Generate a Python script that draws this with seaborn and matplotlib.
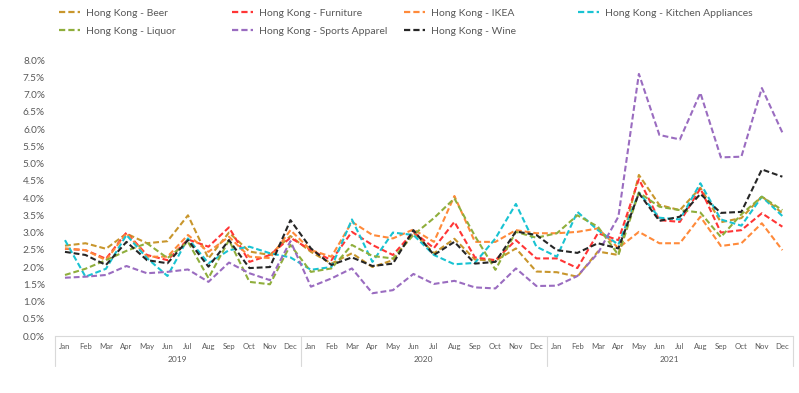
import numpy as np
import pandas as pd
import matplotlib
matplotlib.use("Agg")
import matplotlib.pyplot as plt
import matplotlib.transforms as mtransforms
from matplotlib.lines import Line2D
from matplotlib.ticker import PercentFormatter
import seaborn as sns

# --- data (percent) ---
months = ["Jan", "Feb", "Mar", "Apr", "May", "Jun",
          "Jul", "Aug", "Sep", "Oct", "Nov", "Dec"]
years = ["2019", "2020", "2021"]

beer = [2.62, 2.69, 2.53, 2.97, 2.69, 2.75, 3.50, 2.25, 3.00, 2.45, 2.35, 2.90,
        2.44, 2.10, 2.40, 2.00, 2.20, 3.00, 2.40, 2.82, 2.22, 2.18, 2.54, 1.87,
        1.85, 1.72, 2.45, 2.35, 4.67, 3.80, 3.65, 4.30, 3.30, 3.42, 4.05, 3.56]
furniture = [2.53, 2.49, 2.24, 3.00, 2.35, 2.20, 2.80, 2.59, 3.15, 2.15, 2.35, 2.85,
             2.49, 2.20, 3.02, 2.64, 2.35, 3.02, 2.55, 3.31, 2.28, 2.20, 2.78, 2.25,
             2.25, 1.97, 2.98, 2.78, 4.55, 3.36, 3.31, 4.28, 3.00, 3.07, 3.56, 3.17]
ikea = [2.54, 2.49, 2.20, 2.98, 2.30, 2.30, 2.93, 2.44, 2.88, 2.30, 2.26, 3.07,
        2.49, 2.30, 3.31, 2.93, 2.83, 3.09, 2.73, 4.06, 2.73, 2.73, 3.07, 2.98,
        2.98, 3.02, 3.12, 2.55, 3.02, 2.69, 2.69, 3.46, 2.61, 2.69, 3.27, 2.49]
kitchen = [2.78, 1.72, 1.95, 2.93, 2.26, 1.74, 2.83, 2.11, 2.49, 2.59, 2.40, 2.28,
           1.92, 2.00, 3.38, 2.15, 3.00, 2.93, 2.35, 2.08, 2.12, 2.83, 3.83, 2.59,
           2.30, 3.60, 3.07, 2.65, 4.16, 3.43, 3.38, 4.43, 3.38, 3.20, 4.04, 3.48]
liquor = [1.77, 1.95, 2.20, 2.47, 2.69, 2.26, 2.73, 1.68, 2.78, 1.57, 1.50, 2.64,
          1.86, 1.96, 2.64, 2.32, 2.25, 2.93, 3.42, 3.99, 2.90, 1.92, 3.02, 2.85,
          2.98, 3.50, 3.17, 2.35, 4.16, 3.75, 3.65, 3.58, 2.87, 3.53, 4.04, 3.65]
sports = [1.69, 1.72, 1.77, 2.03, 1.82, 1.86, 1.93, 1.57, 2.13, 1.82, 1.62, 2.75,
          1.43, 1.67, 1.96, 1.24, 1.33, 1.80, 1.51, 1.60, 1.41, 1.38, 1.96, 1.45,
          1.46, 1.74, 2.40, 3.46, 7.60, 5.83, 5.70, 7.05, 5.18, 5.20, 7.19, 5.90]
wine = [2.44, 2.35, 2.06, 2.73, 2.20, 2.11, 2.78, 2.01, 2.78, 1.97, 2.00, 3.36,
        2.54, 2.06, 2.28, 2.03, 2.10, 3.07, 2.35, 2.73, 2.10, 2.15, 3.03, 2.93,
        2.49, 2.41, 2.69, 2.54, 4.14, 3.34, 3.46, 4.12, 3.57, 3.60, 4.83, 4.62]

series_names = ["Hong Kong - Beer", "Hong Kong - Furniture", "Hong Kong - IKEA",
                "Hong Kong - Kitchen Appliances", "Hong Kong - Liquor",
                "Hong Kong - Sports Apparel", "Hong Kong - Wine"]
series_values = [beer, furniture, ikea, kitchen, liquor, sports, wine]
colors = ["#C8962C", "#FF3535", "#FF8A3A", "#19C3D2", "#8FAE3C", "#9A6CC0", "#262626"]

sns.set_theme(style="white")
plt.rcParams['font.family'] = ['Lato', 'DejaVu Sans']
text_col = "#595959"

rows = []
for name, vals in zip(series_names, series_values):
    for i, v in enumerate(vals):
        rows.append({"idx": i, "value": v, "series": name})
df = pd.DataFrame(rows)

palette = dict(zip(series_names, colors))
dash = (2.8, 1.4)

fig = plt.figure(figsize=(7.99, 3.93), dpi=100)
ax = fig.add_axes([0.0685, 0.145, 0.9235, 0.702])

sns.lineplot(data=df, x="idx", y="value", hue="series", style="series",
             palette=palette, dashes={s: dash for s in series_names},
             linewidth=1.5, legend=False, ax=ax)

ax.set_xlim(-0.5, 35.5)
ax.set_ylim(0, 8)
ax.set_yticks(np.arange(0, 8.01, 0.5))
ax.yaxis.set_major_formatter(PercentFormatter(xmax=100, decimals=1))
ax.set_xlabel("")
ax.set_ylabel("")

for s in ["top", "right", "left"]:
    ax.spines[s].set_visible(False)
ax.spines["bottom"].set_color("#D9D9D9")
ax.spines["bottom"].set_linewidth(0.8)

ax.tick_params(axis="y", length=0, pad=7, labelsize=7.2, labelcolor=text_col)
ax.set_xticks(range(36))
ax.set_xticklabels(months * 3)
ax.tick_params(axis="x", length=0, pad=5, labelsize=5.6, labelcolor=text_col)

# year labels and separators (two-level category axis)
trans = mtransforms.blended_transform_factory(ax.transData, ax.transAxes)
for k, yr in enumerate(years):
    ax.text(k * 12 + 5.5, -0.085, yr, transform=trans, ha="center", va="center",
            fontsize=6, color=text_col)
for xb in [-0.5, 11.5, 23.5, 35.5]:
    ax.add_line(Line2D([xb, xb], [0, -0.11], transform=trans, color="#D9D9D9",
                       linewidth=0.8, clip_on=False))

# legend laid out in four fixed columns
handles = [Line2D([], [], color=c, linewidth=1.6, dashes=dash) for c in colors]
columns = [[0, 4], [1, 5], [2, 6], [3]]
col_x = [0.066, 0.283, 0.498, 0.716]
for cx, idxs in zip(col_x, columns):
    leg = fig.legend([handles[i] for i in idxs], [series_names[i] for i in idxs],
                     loc="upper left", bbox_to_anchor=(cx, 0.995), frameon=False,
                     fontsize=7.5, handlelength=2.0, handletextpad=0.6,
                     labelspacing=0.85, borderaxespad=0.2)
    for t in leg.get_texts():
        t.set_color(text_col)

fig.savefig("out.png", dpi=100)
